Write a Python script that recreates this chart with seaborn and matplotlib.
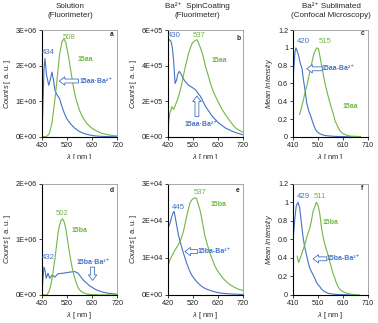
import numpy as np
import pandas as pd
import seaborn as sns
import matplotlib.pyplot as plt
from matplotlib.ticker import FuncFormatter, MultipleLocator, FixedLocator
from matplotlib.patches import Rectangle

# panel a - solution, 15aa (counts in 1E6)
wl_a_blue = [420, 424, 428, 432, 438, 447, 453, 460, 466, 472, 480, 490, 500, 510, 520, 535, 550, 570, 590, 610, 630, 660, 690, 720]
cnt_a_blue = [0.0, 0.9, 1.9, 2.2, 1.75, 1.45, 1.6, 1.82, 1.6, 1.3, 1.18, 1.08, 0.85, 0.65, 0.5, 0.36, 0.25, 0.15, 0.09, 0.055, 0.03, 0.015, 0.008, 0.005]
wl_a_green = [420, 440, 450, 460, 470, 480, 490, 500, 508, 515, 525, 535, 545, 555, 570, 585, 600, 620, 640, 660, 680, 700, 720]
cnt_a_green = [0.0, 0.02, 0.1, 0.4, 0.95, 1.6, 2.3, 2.68, 2.75, 2.65, 2.3, 1.85, 1.42, 1.08, 0.74, 0.52, 0.37, 0.24, 0.16, 0.1, 0.065, 0.04, 0.03]

# panel b - spin coating, 15aa (counts in 1E5)
wl_b_blue = [420, 428, 433, 438, 443, 449, 455, 460, 466, 472, 480, 490, 503, 515, 530, 550, 570, 597, 623, 650, 677, 700, 720]
cnt_b_blue = [5.4, 5.45, 5.35, 5.0, 4.3, 3.0, 3.2, 3.55, 3.68, 3.55, 3.3, 3.1, 2.9, 2.8, 2.65, 2.28, 1.72, 1.16, 0.78, 0.5, 0.32, 0.2, 0.12]
wl_b_green = [420, 424, 428, 432, 436, 440, 444, 449, 456, 463, 470, 476, 483, 490, 497, 503, 510, 516, 523, 530, 537, 543, 550, 556, 563, 570, 580, 590, 600, 610, 623, 637, 650, 664, 677, 690, 704, 720]
cnt_b_green = [0.3, 0.9, 1.35, 1.5, 1.7, 1.6, 1.55, 1.75, 2.0, 2.28, 2.65, 3.0, 3.5, 3.96, 4.35, 4.7, 5.0, 5.23, 5.35, 5.42, 5.45, 5.25, 5.0, 4.77, 4.4, 3.96, 3.5, 3.0, 2.6, 2.28, 1.9, 1.53, 1.25, 0.97, 0.72, 0.5, 0.38, 0.26]

# panel c - sublimated, 15aa (mean intensity)
wl_c_blue = [410, 414, 418, 422, 427, 432, 439, 446, 452, 459, 465, 472, 479, 486, 492, 499, 505, 515, 525, 540, 558, 580, 610, 640, 660]
int_c_blue = [0.6, 0.8, 0.95, 1.0, 0.96, 0.92, 0.83, 0.77, 0.64, 0.51, 0.38, 0.3, 0.25, 0.19, 0.14, 0.09, 0.063, 0.04, 0.026, 0.015, 0.01, 0.006, 0.004, 0.002, 0.001]
wl_c_green = [436, 444, 452, 458, 465, 472, 479, 486, 492, 499, 505, 512, 518, 525, 531, 538, 545, 551, 558, 565, 572, 578, 585, 591, 600, 611, 624, 637, 650, 665, 680]
int_c_green = [0.25, 0.33, 0.42, 0.5, 0.57, 0.66, 0.75, 0.84, 0.92, 0.97, 1.0, 0.99, 0.9, 0.79, 0.7, 0.6, 0.52, 0.45, 0.38, 0.31, 0.25, 0.18, 0.14, 0.1, 0.06, 0.034, 0.02, 0.01, 0.008, 0.006, 0.005]

# panel d - solution, 15ba (counts in 1E6)
wl_d_blue = [420, 424, 428, 432, 437, 444, 451, 461, 471, 484, 504, 531, 551, 564, 584, 611, 637, 664, 690, 720]
cnt_d_blue = [0.0, 0.3, 0.5, 0.45, 0.3, 0.39, 0.3, 0.36, 0.32, 0.38, 0.39, 0.41, 0.42, 0.39, 0.27, 0.16, 0.09, 0.048, 0.025, 0.012]
wl_d_green = [420, 440, 450, 457, 464, 471, 478, 484, 490, 496, 502, 508, 515, 524, 530, 537, 544, 551, 558, 564, 574, 584, 600, 620, 650, 720]
cnt_d_green = [0.0, 0.0, 0.08, 0.21, 0.4, 0.63, 0.88, 1.11, 1.25, 1.34, 1.37, 1.32, 1.2, 0.93, 0.75, 0.57, 0.42, 0.3, 0.2, 0.13, 0.07, 0.04, 0.015, 0.005, 0.0, 0.0]

# panel e - spin coating, 15ba (counts in 1E4)
wl_e_blue = [420, 429, 436, 442, 445, 449, 456, 462, 469, 476, 482, 495, 505, 515, 525, 535, 548, 561, 577, 594, 614, 634, 660, 690, 720]
cnt_e_blue = [1.8, 1.94, 2.12, 2.23, 2.25, 2.12, 1.85, 1.63, 1.44, 1.27, 1.13, 0.86, 0.68, 0.54, 0.44, 0.36, 0.27, 0.2, 0.15, 0.11, 0.07, 0.045, 0.03, 0.018, 0.01]
wl_e_green = [420, 429, 442, 456, 469, 482, 489, 495, 502, 508, 515, 522, 530, 535, 541, 548, 555, 561, 568, 578, 588, 598, 608, 621, 634, 647, 660, 674, 687, 703, 720]
cnt_e_green = [0.78, 0.95, 1.13, 1.29, 1.44, 1.71, 1.92, 2.12, 2.32, 2.48, 2.56, 2.6, 2.62, 2.6, 2.45, 2.3, 2.07, 1.85, 1.58, 1.35, 1.13, 0.95, 0.77, 0.62, 0.5, 0.4, 0.32, 0.25, 0.2, 0.15, 0.12]

# panel f - sublimated, 15ba (mean intensity)
wl_f_blue = [410, 417, 423, 430, 437, 443, 450, 456, 461, 466, 470, 477, 484, 490, 497, 503, 510, 517, 523, 530, 540, 550, 565, 583, 610, 650]
int_f_blue = [0.58, 0.81, 0.96, 1.0, 0.94, 0.79, 0.63, 0.53, 0.47, 0.41, 0.36, 0.29, 0.25, 0.22, 0.18, 0.14, 0.11, 0.09, 0.065, 0.047, 0.03, 0.018, 0.01, 0.005, 0.002, 0.0]
wl_f_green = [427, 430, 433, 437, 442, 447, 452, 457, 462, 466, 472, 477, 483, 490, 497, 503, 510, 517, 523, 528, 533, 538, 543, 550, 557, 563, 570, 577, 583, 590, 597, 607, 617, 627, 637, 657, 677]
int_f_green = [0.42, 0.38, 0.35, 0.38, 0.42, 0.46, 0.5, 0.54, 0.59, 0.63, 0.68, 0.72, 0.79, 0.9, 0.95, 1.0, 0.97, 0.88, 0.74, 0.66, 0.59, 0.54, 0.49, 0.43, 0.36, 0.3, 0.23, 0.18, 0.13, 0.09, 0.06, 0.04, 0.025, 0.015, 0.01, 0.003, 0.0]

xticks_fl = [420, 520, 620, 720]
xticks_cm = [410, 510, 610, 710]
col_titles = ["Solution\n(Fluorimeter)", "Ba²⁺  SpinCoating\n(Fluorimeter)", "Ba²⁺ Sublimated\n(Confocal Microscopy)"]

sns.set_style("ticks")
plt.rcParams['font.family'] = ['Liberation Sans', 'DejaVu Sans']
plt.rcParams['mathtext.fontset'] = 'custom'
plt.rcParams['mathtext.rm'] = 'Liberation Sans'
plt.rcParams['mathtext.it'] = 'Liberation Sans:italic'
plt.rcParams['mathtext.bf'] = 'Liberation Sans:bold'

blue = "#4472C4"
green = "#72B645"
fs_tick = 5.2
fs_lab = 5.4
fs_peak = 5.6
fs_name = 5.0

fig = plt.figure(figsize=(3.78, 3.23), dpi=100)
lefts = [0.111, 0.444, 0.775]
w = 0.199
top_b, top_h = 0.576, 0.331
bot_b, bot_h = 0.087, 0.344


def setup(ax, xticks, ylim, ystep, fmt, ylabel):
    ax.set_xlim(xticks[0], xticks[-1])
    ax.set_ylim(*ylim)
    ax.xaxis.set_major_locator(FixedLocator(xticks))
    ax.yaxis.set_major_locator(MultipleLocator(ystep))
    ax.yaxis.set_major_formatter(FuncFormatter(fmt))
    ax.tick_params(labelsize=fs_tick, length=2, width=0.6, pad=1.5, colors='#222222')
    for s in ['left', 'bottom']:
        ax.spines[s].set_color('black')
        ax.spines[s].set_linewidth(0.8)
    for s in ['top', 'right']:
        ax.spines[s].set_visible(True)
        ax.spines[s].set_color('#999999')
        ax.spines[s].set_linewidth(0.6)
    ax.set_xlabel(r"$\lambda$ [ nm ]", fontsize=fs_lab, labelpad=2)
    ax.set_ylabel(ylabel, fontsize=fs_lab, labelpad=2)


def curve(ax, x, y, c):
    sns.lineplot(x=x, y=y, ax=ax, color=c, lw=0.8)


def larrow(ax, tip, tail):
    ax.annotate('', xy=tip, xytext=tail,
                arrowprops=dict(arrowstyle='simple,head_length=0.5,head_width=0.75,tail_width=0.35',
                                fc='white', ec=blue, lw=0.6, mutation_scale=8, shrinkA=0, shrinkB=0))


def name(ax, x, y, t, c, ha='center'):
    ax.text(x, y, t, color=c, fontsize=fs_name, fontweight='bold', ha=ha, va='center')


def peak(ax, x, y, t, c):
    ax.text(x, y, t, color=c, fontsize=fs_peak, ha='center', va='center')


sci = lambda v, p: f"{v:.0E}"
gen = lambda v, p: f"{v:g}"
cnt_lab = r"$\it{Counts}$ [ a. u. ]"
mi_lab = r"$\it{Mean\ Intensity}$"

# ---- a
ax = fig.add_axes([lefts[0], top_b, w, top_h])
curve(ax, wl_a_blue, np.array(cnt_a_blue) * 1e6, blue)
curve(ax, wl_a_green, np.array(cnt_a_green) * 1e6, green)
setup(ax, xticks_fl, (0, 3e6), 1e6, sci, cnt_lab)
peak(ax, 445, 2.38e6, "434", blue)
peak(ax, 529, 2.78e6, "508", green)
name(ax, 592, 2.16e6, "15aa", green)
larrow(ax, (489, 1.57e6), (566, 1.57e6))
name(ax, 568, 1.57e6, "15aa·Ba²⁺", blue, ha='left')
ax.text(697, 2.88e6, "a", fontsize=4.8, fontweight='bold', ha='center', va='center')

# ---- b
ax = fig.add_axes([lefts[1], top_b, w, top_h])
curve(ax, wl_b_blue, np.array(cnt_b_blue) * 1e5, blue)
curve(ax, wl_b_green, np.array(cnt_b_green) * 1e5, green)
setup(ax, xticks_fl, (0, 6e5), 2e5, sci, cnt_lab)
peak(ax, 446, 5.72e5, "430", blue)
peak(ax, 546, 5.7e5, "537", green)
name(ax, 626, 4.3e5, "15aa", green)
larrow(ax, (536, 2.3e5), (536, 1.15e5))
name(ax, 551, 0.7e5, "15aa·Ba²⁺", blue)
ax.text(701, 5.5e5, "b", fontsize=4.8, fontweight='bold', ha='center', va='center')

# ---- c
ax = fig.add_axes([lefts[2], top_b, w, top_h])
curve(ax, wl_c_blue, int_c_blue, blue)
curve(ax, wl_c_green, int_c_green, green)
setup(ax, xticks_cm, (0, 1.2), 0.2, gen, mi_lab)
peak(ax, 452, 1.07, "420", blue)
peak(ax, 538, 1.07, "515", green)
name(ax, 637, 0.34, "15aa", green)
larrow(ax, (465, 0.765), (527, 0.765))
name(ax, 526, 0.765, "15aa-Ba²⁺", blue, ha='left')
ax.text(687, 1.16, "c", fontsize=4.8, fontweight='bold', ha='center', va='center')

# ---- d
ax = fig.add_axes([lefts[0], bot_b, w, bot_h])
curve(ax, wl_d_blue, np.array(cnt_d_blue) * 1e6, blue)
curve(ax, wl_d_green, np.array(cnt_d_green) * 1e6, green)
setup(ax, xticks_fl, (0, 2e6), 1e6, sci, cnt_lab)
peak(ax, 447, 0.67e6, "432", blue)
peak(ax, 501, 1.46e6, "502", green)
name(ax, 568, 1.16e6, "15ba", green)
name(ax, 624, 0.59e6, "15ba·Ba²⁺", blue)
larrow(ax, (622, 0.26e6), (622, 0.5e6))
ax.text(697, 1.88e6, "d", fontsize=4.8, fontweight='bold', ha='center', va='center')

# ---- e
ax = fig.add_axes([lefts[1], bot_b, w, bot_h])
curve(ax, wl_e_blue, np.array(cnt_e_blue) * 1e4, blue)
curve(ax, wl_e_green, np.array(cnt_e_green) * 1e4, green)
setup(ax, xticks_fl, (0, 3e4), 1e4, sci, cnt_lab)
peak(ax, 462, 2.36e4, "445", blue)
peak(ax, 548, 2.76e4, "537", green)
name(ax, 621, 2.43e4, "15ba", green)
larrow(ax, (488, 1.17e4), (538, 1.17e4))
name(ax, 537, 1.17e4, "15ba-Ba²⁺", blue, ha='left')
ax.text(697, 2.82e4, "e", fontsize=4.8, fontweight='bold', ha='center', va='center')

# ---- f
ax = fig.add_axes([lefts[2], bot_b, w, bot_h])
curve(ax, wl_f_blue, int_f_blue, blue)
curve(ax, wl_f_green, int_f_green, green)
setup(ax, xticks_cm, (0, 1.2), 0.2, gen, mi_lab)
peak(ax, 450, 1.06, "429", blue)
peak(ax, 517, 1.06, "511", green)
name(ax, 528, 0.78, "15ba", green, ha='left')
larrow(ax, (490, 0.39), (545, 0.39))
name(ax, 544, 0.39, "15ba-Ba²⁺", blue, ha='left')
ax.text(687, 1.15, "f", fontsize=4.8, fontweight='bold', ha='center', va='center')

# column titles
for xc, t in zip([70, 197, 331], col_titles):
    fig.text(xc / 378, 1 - 11 / 323, t, fontsize=5.8, ha='center', va='center', linespacing=1.4)

# the top-row x labels are half hidden in the original
fig.patches.append(Rectangle((0, 0.46), 1, 0.048, transform=fig.transFigure,
                             facecolor='white', edgecolor='none', zorder=10))

fig.savefig("out.png", dpi=100)
